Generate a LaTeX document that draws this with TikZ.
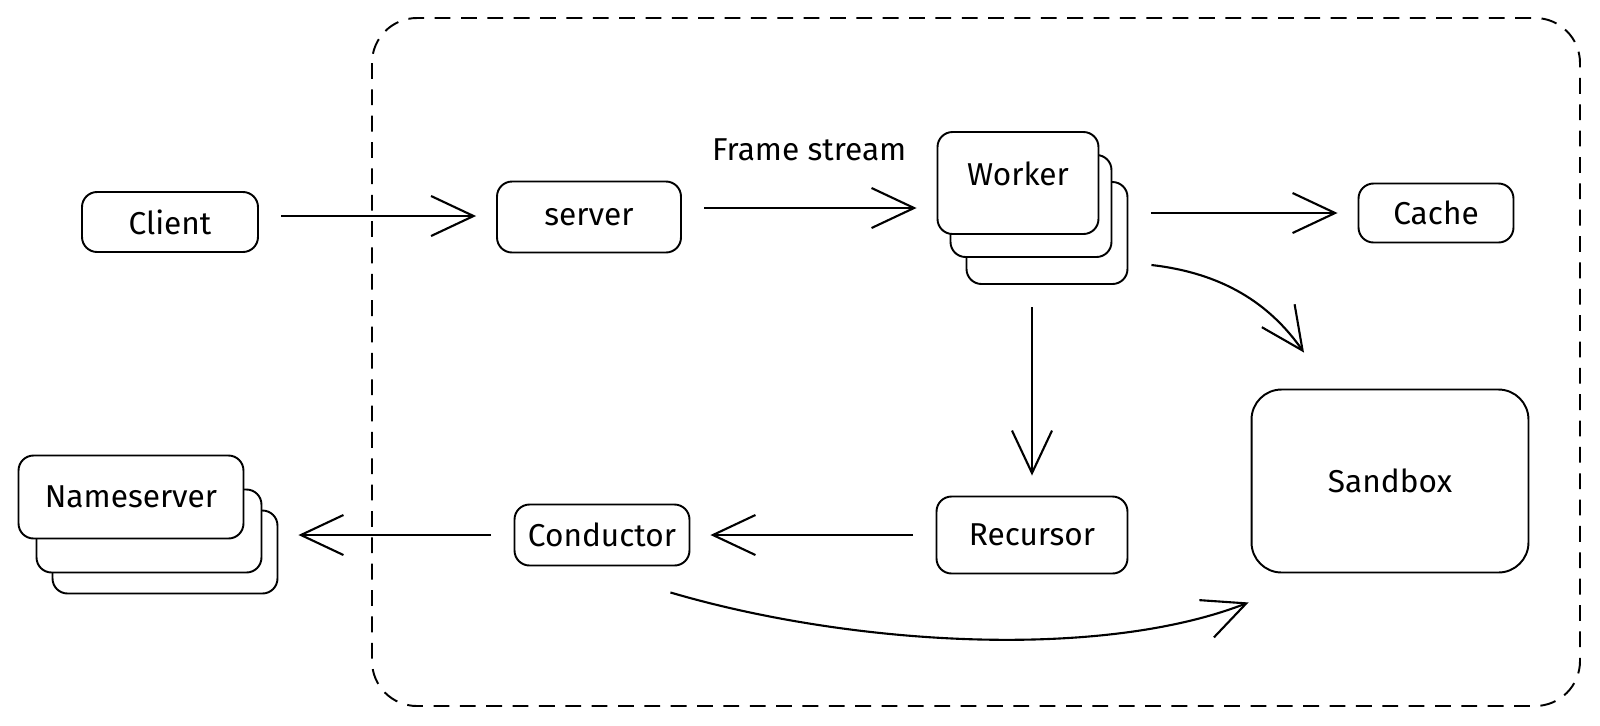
\documentclass[tikz,border=0pt]{standalone}
\usepackage{fontspec}
\setmainfont{Fira Sans}
\usetikzlibrary{positioning,arrows.meta}

\tikzset{
  box/.style={draw, rounded corners=0.3cm, line width=1.1pt, fill=white,
    inner sep=0pt, font=\fontsize{18}{22}\selectfont},
  link/.style={line width=1.2pt, -{Straight Barb[length=0.85cm,width=0.8cm]},
    shorten <=0.45cm, shorten >=0.4cm},
}

\begin{document}
\begin{tikzpicture}[x=0.02cm, y=-0.02cm]
    \useasboundingbox (0,0) rectangle (1600,725);
    \draw[line width=1.1pt, dash pattern=on 9pt off 6pt, rounded corners=0.9cm] (372,18) rectangle (1580,706);

    \node[box, minimum width=3.52cm, minimum height=1.2cm] (client) at (170,222) {Client};
    \node[box, minimum width=3.68cm, minimum height=1.42cm] (server) at (589,217) {server};
    \node[box, minimum width=3.22cm, minimum height=2.04cm] (wk3) at (1047,233) {};
    \node[box, minimum width=3.22cm, minimum height=2.04cm] (wk2) at ([shift={(-16,-27)}]wk3) {};
    \node[box, minimum width=3.22cm, minimum height=2.04cm, text depth=0.38cm] (wk1) at ([shift={(-13,-23)}]wk2) {Worker};
    \node[box, minimum width=3.1cm, minimum height=1.18cm] (cache) at (1436,213) {Cache};
    \node[box, rounded corners=0.6cm, minimum width=5.54cm, minimum height=3.66cm] (sandbox) at (1390,481) {Sandbox};
    \node[box, minimum width=3.82cm, minimum height=1.54cm] (recursor) at (1032,535) {Recursor};
    \node[box, minimum width=3.5cm, minimum height=1.22cm] (conductor) at (602,535) {Conductor};
    \node[box, minimum width=4.5cm, minimum height=1.66cm] (ns3) at (165,552) {};
    \node[box, minimum width=4.5cm, minimum height=1.66cm] (ns2) at ([shift={(-16,-21)}]ns3) {};
    \node[box, minimum width=4.5cm, minimum height=1.66cm] (ns1) at ([shift={(-18,-34)}]ns2) {Nameserver};

    \draw[link] ([yshift=0.12cm]client.east) -- ([yshift=0.12cm]client.east -| server.west);
    \draw[link] ([yshift=0.18cm]server.east) -- ([yshift=0.18cm]server.east -| wk1.west)
        node[midway, above=0.8cm, font=\fontsize{18}{22}\selectfont] (stream) {Frame stream};
    \draw[link] (wk3.east |- cache) -- (cache.west);
    \draw[link] (wk3.south -| recursor) -- (recursor.north);
    \draw[link] (recursor.west) -- (conductor.east);
    \draw[link] (conductor.west) -- (conductor.west -| ns3.east);
    \draw[link, shorten <=0pt, shorten >=0pt] ([shift={(23,32)}]wk3.east)
        .. controls +(70,8) and +(-35,-50) .. ([shift={(-86,-36)}]sandbox.north);
    \draw[link, shorten <=0pt, shorten >=0pt] ([shift={(-20,26)}]conductor.south east)
        .. controls +(180,53) and +(-149,58) .. ([shift={(-2,29)}]sandbox.south west);
  \end{tikzpicture}
\end{document}
